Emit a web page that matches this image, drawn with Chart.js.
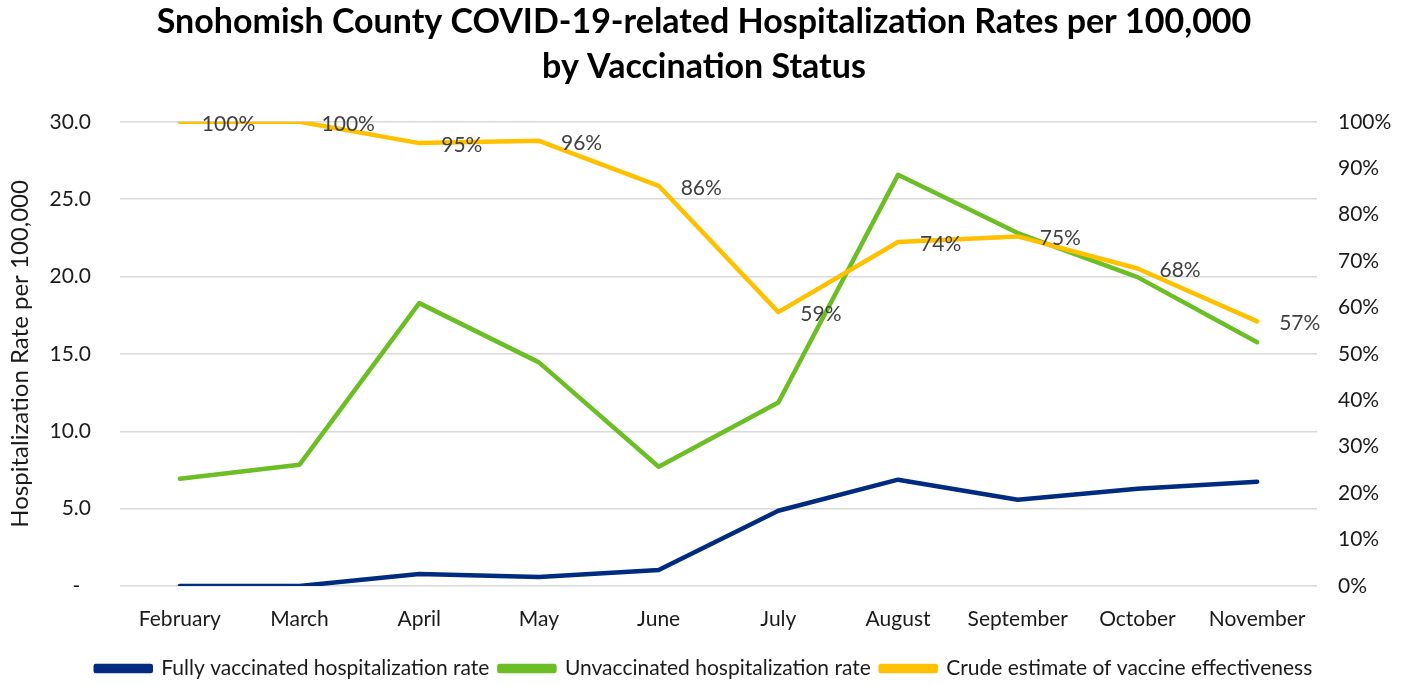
<!DOCTYPE html>
<html>
<head>
<meta charset="utf-8">
<script src="https://cdn.jsdelivr.net/npm/chart.js@4/dist/chart.umd.min.js"></script>
<style>
  html, body { margin: 0; padding: 0; background: #fff; }
  #wrap { position: relative; width: 1408px; height: 685px; }
</style>
</head>
<body>
<div id="wrap"><canvas id="chart"></canvas></div>
<script>
const months = ['February', 'March', 'April', 'May', 'June', 'July', 'August', 'September', 'October', 'November'];
const fullyVaccinated = [0, 0, 0.78, 0.58, 1.04, 4.86, 6.87, 5.57, 6.29, 6.74];
const unvaccinated = [6.93, 7.84, 18.28, 14.45, 7.71, 11.86, 26.57, 22.81, 19.96, 15.75];
const effectiveness = [100, 100, 95.4, 95.9, 86.2, 59.0, 74.1, 75.3, 68.4, 57.0];

const FONT = 'Lato, "Open Sans", sans-serif';
const TEXT = '#1a1a1a';

// data labels for the effectiveness line, drawn to the right of each point
const veLabels = {
  id: 'veLabels',
  afterDatasetsDraw(chart) {
    const meta = chart.getDatasetMeta(2);
    const ctx = chart.ctx;
    ctx.save();
    ctx.font = '21px ' + FONT;
    ctx.fillStyle = '#404040';
    ctx.textAlign = 'left';
    ctx.textBaseline = 'middle';
    meta.data.forEach((pt, i) => {
      ctx.fillText(Math.round(effectiveness[i]) + '%', pt.x + 22, pt.y + 2);
    });
    ctx.restore();
  }
};

const lineStyle = {
  borderWidth: 4.5,
  pointRadius: 0,
  tension: 0,
  borderJoinStyle: 'round',
  borderCapStyle: 'round',
};

new Chart(document.getElementById('chart'), {
  type: 'line',
  data: {
    labels: months,
    datasets: [
      { label: 'Fully vaccinated hospitalization rate', data: fullyVaccinated, borderColor: '#002B7F', backgroundColor: '#002B7F', yAxisID: 'y', order: 3, ...lineStyle },
      { label: 'Unvaccinated hospitalization rate', data: unvaccinated, borderColor: '#6CBE25', backgroundColor: '#6CBE25', yAxisID: 'y', order: 2, ...lineStyle },
      { label: 'Crude estimate of vaccine effectiveness', data: effectiveness, borderColor: '#FFC000', backgroundColor: '#FFC000', yAxisID: 'y1', order: 1, ...lineStyle },
    ],
  },
  options: {
    responsive: true,
    maintainAspectRatio: false,
    animation: false,
    layout: { padding: { left: 0, right: 0, top: 0, bottom: -4 } },
    plugins: {
      title: {
        display: true,
        text: ['Snohomish County COVID-19-related Hospitalization Rates per 100,000', 'by Vaccination Status'],
        color: '#000',
        font: { family: FONT, size: 34, weight: 'bold', lineHeight: 1.32 },
        padding: { top: 0, bottom: 32 },
      },
      legend: {
        position: 'bottom',
        labels: {
          color: TEXT,
          font: { family: FONT, size: 21 },
          boxWidth: 55,
          boxHeight: 5,
          padding: 10,
          sort: (a, b) => a.datasetIndex - b.datasetIndex,
        },
      },
      tooltip: { enabled: false },
    },
    scales: {
      x: {
        offset: true,
        grid: { display: false, drawTicks: false },
        border: { display: false },
        ticks: { color: TEXT, font: { family: FONT, size: 21 }, padding: 21, maxRotation: 0, autoSkip: false },
        afterFit: s => { s.height = 62; },
      },
      y: {
        position: 'left',
        min: 0,
        max: 30,
        grid: { color: '#d9d9d9', lineWidth: 1.5, drawTicks: false },
        border: { display: false },
        ticks: {
          stepSize: 5,
          color: TEXT,
          font: { family: FONT, size: 21 },
          padding: 29,
          callback: v => v === 0 ? '-  ' : v.toFixed(1),
        },
        title: {
          display: true,
          text: 'Hospitalization Rate per 100,000',
          color: TEXT,
          font: { family: FONT, size: 24 },
          padding: { top: 6, bottom: 0 },
        },
        afterFit: s => { s.width = 120; },
      },
      y1: {
        position: 'right',
        min: 0,
        max: 100,
        grid: { drawOnChartArea: false, drawTicks: false },
        border: { display: false },
        ticks: {
          stepSize: 10,
          color: TEXT,
          font: { family: FONT, size: 21 },
          padding: 21,
          callback: v => v + '%',
        },
        afterFit: s => { s.width = 91; },
      },
    },
  },
  plugins: [veLabels],
});
</script>
</body>
</html>
